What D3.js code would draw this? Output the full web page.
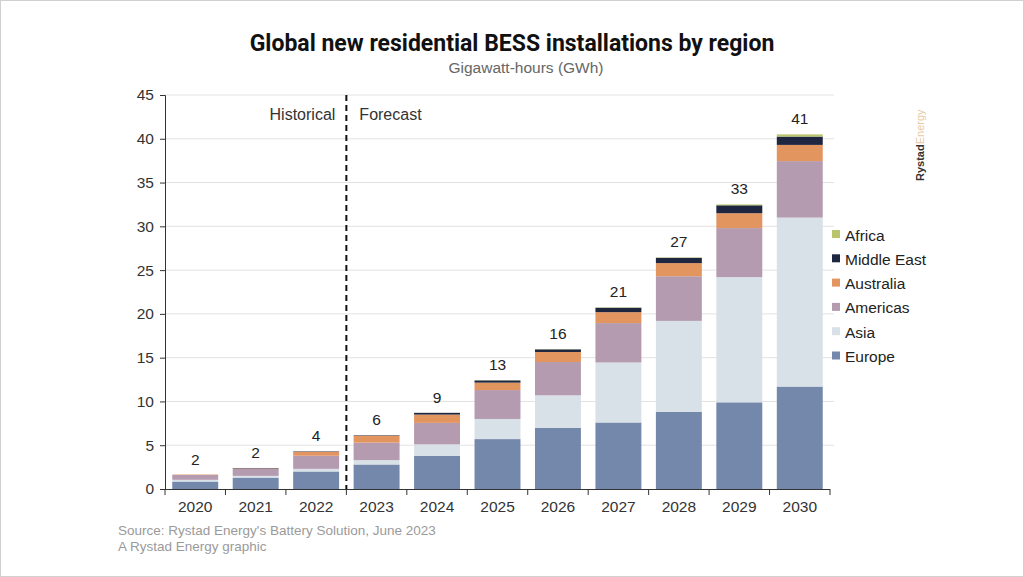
<!DOCTYPE html>
<html><head><meta charset="utf-8">
<script src="https://cdn.jsdelivr.net/npm/d3@7"></script>
<style>body{margin:0;background:#fff;} svg{display:block;}</style>
</head><body><svg id="c" width="1024" height="577"></svg>
<script>
const years = ["2020","2021","2022","2023","2024","2025","2026","2027","2028","2029","2030"];
const regions = ["Europe","Asia","Americas","Australia","Middle East","Africa"];
const europe    = [0.85,1.3,2.0,2.8,3.8,5.7,7.0,7.6,8.8,9.9,11.7];
const asia      = [0.2,0.2,0.3,0.5,1.3,2.3,3.7,6.85,10.4,14.3,19.3];
const americas  = [0.55,0.8,1.5,2.0,2.45,3.3,3.8,4.5,5.1,5.6,6.45];
const australia = [0.05,0.05,0.45,0.8,0.95,0.85,1.15,1.25,1.5,1.7,1.85];
const middleEast= [0.0,0.05,0.05,0.05,0.2,0.25,0.3,0.5,0.6,0.9,0.95];
const africa    = [0.0,0.0,0.0,0.0,0.0,0.02,0.03,0.05,0.05,0.1,0.25];
const totalLabels = ["2","2","4","6","9","13","16","21","27","33","41"];
const yTicks = [0,5,10,15,20,25,30,35,40,45];
const colors = ["#7488ab","#d9e1e8","#b49bb0","#e39560","#1e2640","#b9c46b"];

const series = [europe, asia, americas, australia, middleEast, africa];
const rows = years.map((y,i)=>{const o={year:y}; regions.forEach((r,k)=>o[r]=series[k][i]); return o;});

const svg = d3.select("#c");
const F = "'Liberation Sans', Arial, sans-serif";
svg.append("rect").attr("x",0.5).attr("y",0.5).attr("width",1023).attr("height",576).attr("fill","#fff").attr("stroke","#d0d0d0");

const L=165, R=830, T=95, B=489;
const x = d3.scaleBand().domain(years).range([L,R]).paddingInner(0.24).paddingOuter(0.12);
const y = d3.scaleLinear().domain([0,45]).range([B,T]);

// gridlines
svg.append("g").selectAll("line").data(yTicks.filter(d=>d>0)).join("line")
  .attr("x1",L).attr("x2",834).attr("y1",d=>y(d)).attr("y2",d=>y(d))
  .attr("stroke","#e2e2e2").attr("stroke-width",1);

// bars
const stack = d3.stack().keys(regions)(rows);
svg.append("g").selectAll("g").data(stack).join("g").attr("fill",(d,i)=>colors[i])
  .selectAll("rect").data(d=>d).join("rect")
  .attr("x",d=>x(d.data.year)).attr("width",x.bandwidth())
  .attr("y",d=>y(d[1])).attr("height",d=>Math.max(0,y(d[0])-y(d[1])));

// totals
const totals = years.map((yr,i)=>d3.sum(series,s=>s[i]));
svg.append("g").selectAll("text").data(years).join("text")
  .attr("x",d=>x(d)+x.bandwidth()/2).attr("y",(d,i)=>y(totals[i])-10)
  .attr("text-anchor","middle").attr("font-family",F).attr("font-size",15.5).attr("fill","#222")
  .text((d,i)=>totalLabels[i]);

// y axis
const ya = svg.append("g").attr("transform",`translate(${L},0)`)
  .call(d3.axisLeft(y).tickValues(yTicks).tickSize(5).tickPadding(6));
ya.select(".domain").attr("stroke","#333");
ya.selectAll(".tick line").attr("stroke","#333");
ya.selectAll("text").attr("font-family",F).attr("font-size",15.5).attr("fill","#333");

// x axis
const xa = svg.append("g").attr("transform",`translate(0,${B})`)
  .call(d3.axisBottom(x).tickSize(0).tickPadding(12));
xa.select(".domain").attr("stroke","#333").attr("d",`M${L},0.5H${R}`);
xa.selectAll("text").attr("font-family",F).attr("font-size",15.5).attr("fill","#333");
const bounds = d3.range(years.length+1).map(i=>L + i*(R-L)/years.length);
svg.append("g").selectAll("line").data(bounds).join("line")
  .attr("x1",d=>d).attr("x2",d=>d).attr("y1",B).attr("y2",B+6).attr("stroke","#333");

// divider
const divX = bounds[3];
svg.append("line").attr("x1",divX).attr("x2",divX).attr("y1",T).attr("y2",B)
  .attr("stroke","#111").attr("stroke-width",2).attr("stroke-dasharray","6,4");
svg.append("text").attr("x",divX-11).attr("y",120).attr("text-anchor","end")
  .attr("font-family",F).attr("font-size",16).attr("fill","#333").text("Historical");
svg.append("text").attr("x",divX+13).attr("y",120)
  .attr("font-family",F).attr("font-size",16).attr("fill","#333").text("Forecast");

// title
svg.append("text").attr("x",512).attr("y",51).attr("text-anchor","middle")
  .attr("font-family","Roboto, 'Liberation Sans', sans-serif").attr("font-weight","bold").attr("font-size",23).attr("fill","#111")
  .text("Global new residential BESS installations by region");
svg.append("text").attr("x",526).attr("y",73).attr("text-anchor","middle")
  .attr("font-family",F).attr("font-size",15.5).attr("fill","#666").text("Gigawatt-hours (GWh)");

// legend
const legOrder = regions.slice().reverse();
const lg = svg.append("g").selectAll("g").data(legOrder).join("g")
  .attr("transform",(d,i)=>`translate(832,${236+i*24.3})`);
lg.append("rect").attr("x",0).attr("y",-6).attr("width",8).attr("height",8)
  .attr("fill",d=>colors[regions.indexOf(d)]);
lg.append("text").attr("x",13).attr("y",2).attr("dominant-baseline","middle").attr("dy","-0.1em")
  .attr("font-family",F).attr("font-size",15.5).attr("fill","#222").text(d=>d);

// watermark
const wm = svg.append("text").attr("transform","translate(924,181) rotate(-90)")
  .attr("font-family",F).attr("font-size",11);
wm.append("tspan").attr("font-weight","bold").attr("fill","#333").text("Rystad");
wm.append("tspan").attr("fill","#e8c9a4").text("Energy");

// source
svg.append("text").attr("x",118).attr("y",535).attr("font-family",F).attr("font-size",13.5).attr("fill","#9a9a9a")
  .text("Source: Rystad Energy's Battery Solution, June 2023");
svg.append("text").attr("x",118).attr("y",551).attr("font-family",F).attr("font-size",13.5).attr("fill","#9a9a9a")
  .text("A Rystad Energy graphic");
</script></body></html>
